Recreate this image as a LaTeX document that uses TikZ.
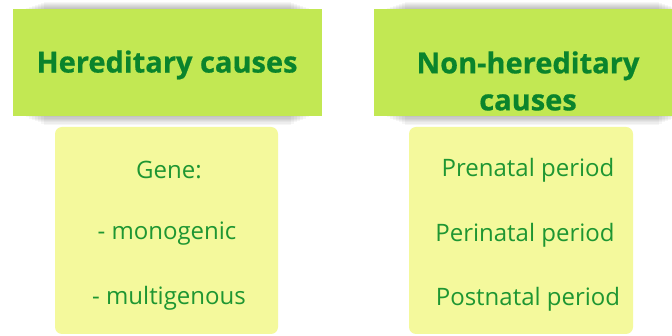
\documentclass[tikz,border=0pt]{standalone}
\usepackage{fontspec}
\setmainfont{Open Sans}
\newfontfamily\headfont[BoldFeatures={FakeBold=0.6}]{Open Sans}
\definecolor{headfill}{HTML}{C2E853}
\definecolor{headtext}{HTML}{0A842C}
\definecolor{bodyfill}{HTML}{F4F99C}
\definecolor{bodytext}{HTML}{1E9632}
\tikzset{
  headbox/.style={fill=headfill, draw=none},
  bodybox/.style={fill=bodyfill, draw=none, rounded corners=7pt},
  headlabel/.style={font=\headfont\bfseries\fontsize{29}{37}\selectfont, text=headtext, align=center, inner sep=0pt},
  bodylabel/.style={font=\fontsize{24}{28}\selectfont, text=bodytext, inner sep=0pt},
  softshadow/.style={fill=black, fill opacity=0.035, draw=none}
}
\newcommand{\shadowbox}[4]{%
  \foreach \i in {1,...,7} {
    \path[softshadow] (#1+10+3*\i,#2-\i) rectangle (#3-10-3*\i,#4+1.3*\i);
  }
}
\begin{document}
\begin{tikzpicture}[x=1pt,y=-1pt]
\useasboundingbox (0,0) rectangle (672,336);
\fill[white] (0,0) rectangle (672,336);
% shadows
\shadowbox{13}{9}{322}{116}
\shadowbox{374}{9}{690}{116}
% headers
\path[headbox] (13,9) rectangle (322,116);
\path[headbox] (374,9) rectangle (680,116);
% bodies
\path[bodybox] (55,127) rectangle (278,334);
\path[bodybox] (409,127) rectangle (633,334);
% header texts
\node[headlabel] (h1) at (167,65) {Hereditary causes};
\node[headlabel] (h2) at (528,81) {Non-hereditary\\causes};
% body texts
\node[bodylabel] (l1) at (169,170) {Gene:};
\node[bodylabel] (l2) at (167,234) {- monogenic};
\node[bodylabel] (l3) at (169,298) {- multigenous};
\node[bodylabel] (r1) at (528,170) {Prenatal period};
\node[bodylabel] (r2) at (525,235) {Perinatal period};
\node[bodylabel] (r3) at (528,299) {Postnatal period};
\end{tikzpicture}
\end{document}
